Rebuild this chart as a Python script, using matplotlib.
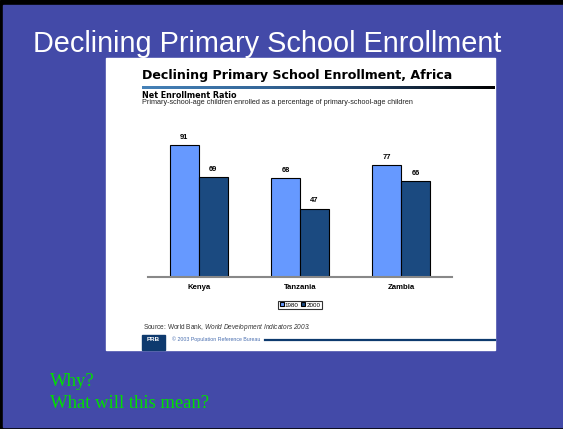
import numpy as np
import matplotlib
matplotlib.use('Agg')
import matplotlib.pyplot as plt
from matplotlib.patches import Rectangle
from matplotlib.colors import LinearSegmentedColormap

plt.rcParams['font.family'] = ['Liberation Sans', 'DejaVu Sans']
# math segments are only used for the italic book title in the source line
plt.rcParams['mathtext.fontset'] = 'custom'
plt.rcParams['mathtext.rm'] = 'Liberation Sans:italic'
plt.rcParams['mathtext.it'] = 'Liberation Sans:italic'

countries = ['Kenya', 'Tanzania', 'Zambia']
ratio_1980 = [91, 68, 77]
ratio_2000 = [69, 47, 66]
years = ['1980', '2000']

W, H = 563, 429
BG = '#434aa8'
C1980 = '#6699ff'
C2000 = '#1b4a80'


def fx(px):
    return px / float(W)


def fy(py):
    return 1 - py / float(H)


fig = plt.figure(figsize=(W / 100., H / 100.), dpi=100)

# slide background, drawn in pixel units
bg = fig.add_axes([0, 0, 1, 1])
bg.set_xlim(0, W)
bg.set_ylim(H, 0)
bg.axis('off')
bg.add_patch(Rectangle((0, 0), W, H, color='black'))
bg.add_patch(Rectangle((3, 5), W - 3, H - 7, color=BG))
bg.add_patch(Rectangle((106, 58), 389, 292, color='white'))

bg.text(267, 44, 'Declining Primary School Enrollment', color='white',
        fontsize=20.8, ha='center', va='center')

bg.text(142, 75.5, 'Declining Primary School Enrollment, Africa',
        family='DejaVu Sans', fontsize=9.05, fontweight='bold',
        ha='left', va='center')

# gradient rule under the panel title
grad = LinearSegmentedColormap.from_list(
    'rule', ['#4682b8', '#35689a', '#1d3a5a', '#000000'])
bg.imshow(np.linspace(0, 1, 256).reshape(1, -1), cmap=grad, aspect='auto',
          extent=(142, 495, 89, 86), zorder=2)
bg.set_xlim(0, W)
bg.set_ylim(H, 0)

bg.text(142, 95.5, 'Net Enrollment Ratio', family='DejaVu Sans', fontsize=5.8,
        fontweight='bold', ha='left', va='center')
bg.text(142, 102.5, 'Primary-school-age children enrolled as a percentage of '
        'primary-school-age children', fontsize=5.25, color='#222222',
        ha='left', va='center')

bg.text(143, 329, r'Source: World Bank, '
        r'$World\ Development\ Indicators\ 2003.$',
        fontsize=4.7, color='#333333', ha='left', va='baseline')

# PRB logo and footer rule
bg.add_patch(Rectangle((142, 335), 23, 15, color='#0e3a6e', zorder=2))
bg.text(153.5, 339.5, 'PRB', fontsize=4.5, fontweight='bold', color='white',
        ha='center', va='center', zorder=3)
bg.text(172, 339.5, '\u00a9 2003 Population Reference Bureau', fontsize=3.8,
        color='#4a6fb0', ha='left', va='center')
bg.plot([265, 495], [339.5, 339.5], color='#0e3a6e', lw=1.6)

bg.text(50, 381, 'Why?', family='Liberation Serif', fontsize=13.4,
        color='#00e000', ha='left', va='center')
bg.text(50, 403, 'What will this mean?', family='Liberation Serif',
        fontsize=13.4, color='#00e000', ha='left', va='center')

# bar chart
ax = fig.add_axes([fx(148), fy(277), fx(452) - fx(148), fy(132) - fy(277)])
x = np.arange(len(countries))
bw = 0.287
b1 = ax.bar(x - bw / 2, ratio_1980, bw, color=C1980, edgecolor='black',
            linewidth=0.8, label=years[0])
b2 = ax.bar(x + bw / 2, ratio_2000, bw, color=C2000, edgecolor='black',
            linewidth=0.8, label=years[1])
for bars, vals in ((b1, ratio_1980), (b2, ratio_2000)):
    for rect, v in zip(bars, vals):
        ax.text(rect.get_x() + rect.get_width() / 2, v + 3, str(v),
                fontsize=5.4, fontweight='bold', ha='center', va='bottom')

ax.set_xlim(-0.5, 2.5)
ax.set_ylim(0, 100)
ax.set_xticks(x)
ax.set_xticklabels(countries, fontsize=5.6, fontweight='bold')
ax.tick_params(axis='x', length=0, pad=5)
ax.set_yticks([])
for s in ('top', 'right', 'left'):
    ax.spines[s].set_visible(False)
ax.spines['bottom'].set_color('#888888')
ax.spines['bottom'].set_linewidth(1.5)
ax.patch.set_alpha(0)

leg = ax.legend(loc='center', bbox_to_anchor=(fx(300), fy(305)),
                bbox_transform=fig.transFigure, ncol=2, fontsize=4.5,
                frameon=True, fancybox=False, handlelength=0.6,
                handleheight=0.6, handletextpad=0.2, columnspacing=0.4,
                borderpad=0.25, borderaxespad=0)
leg.get_frame().set_edgecolor('black')
leg.get_frame().set_linewidth(0.8)

fig.savefig('out.png', dpi=100)
